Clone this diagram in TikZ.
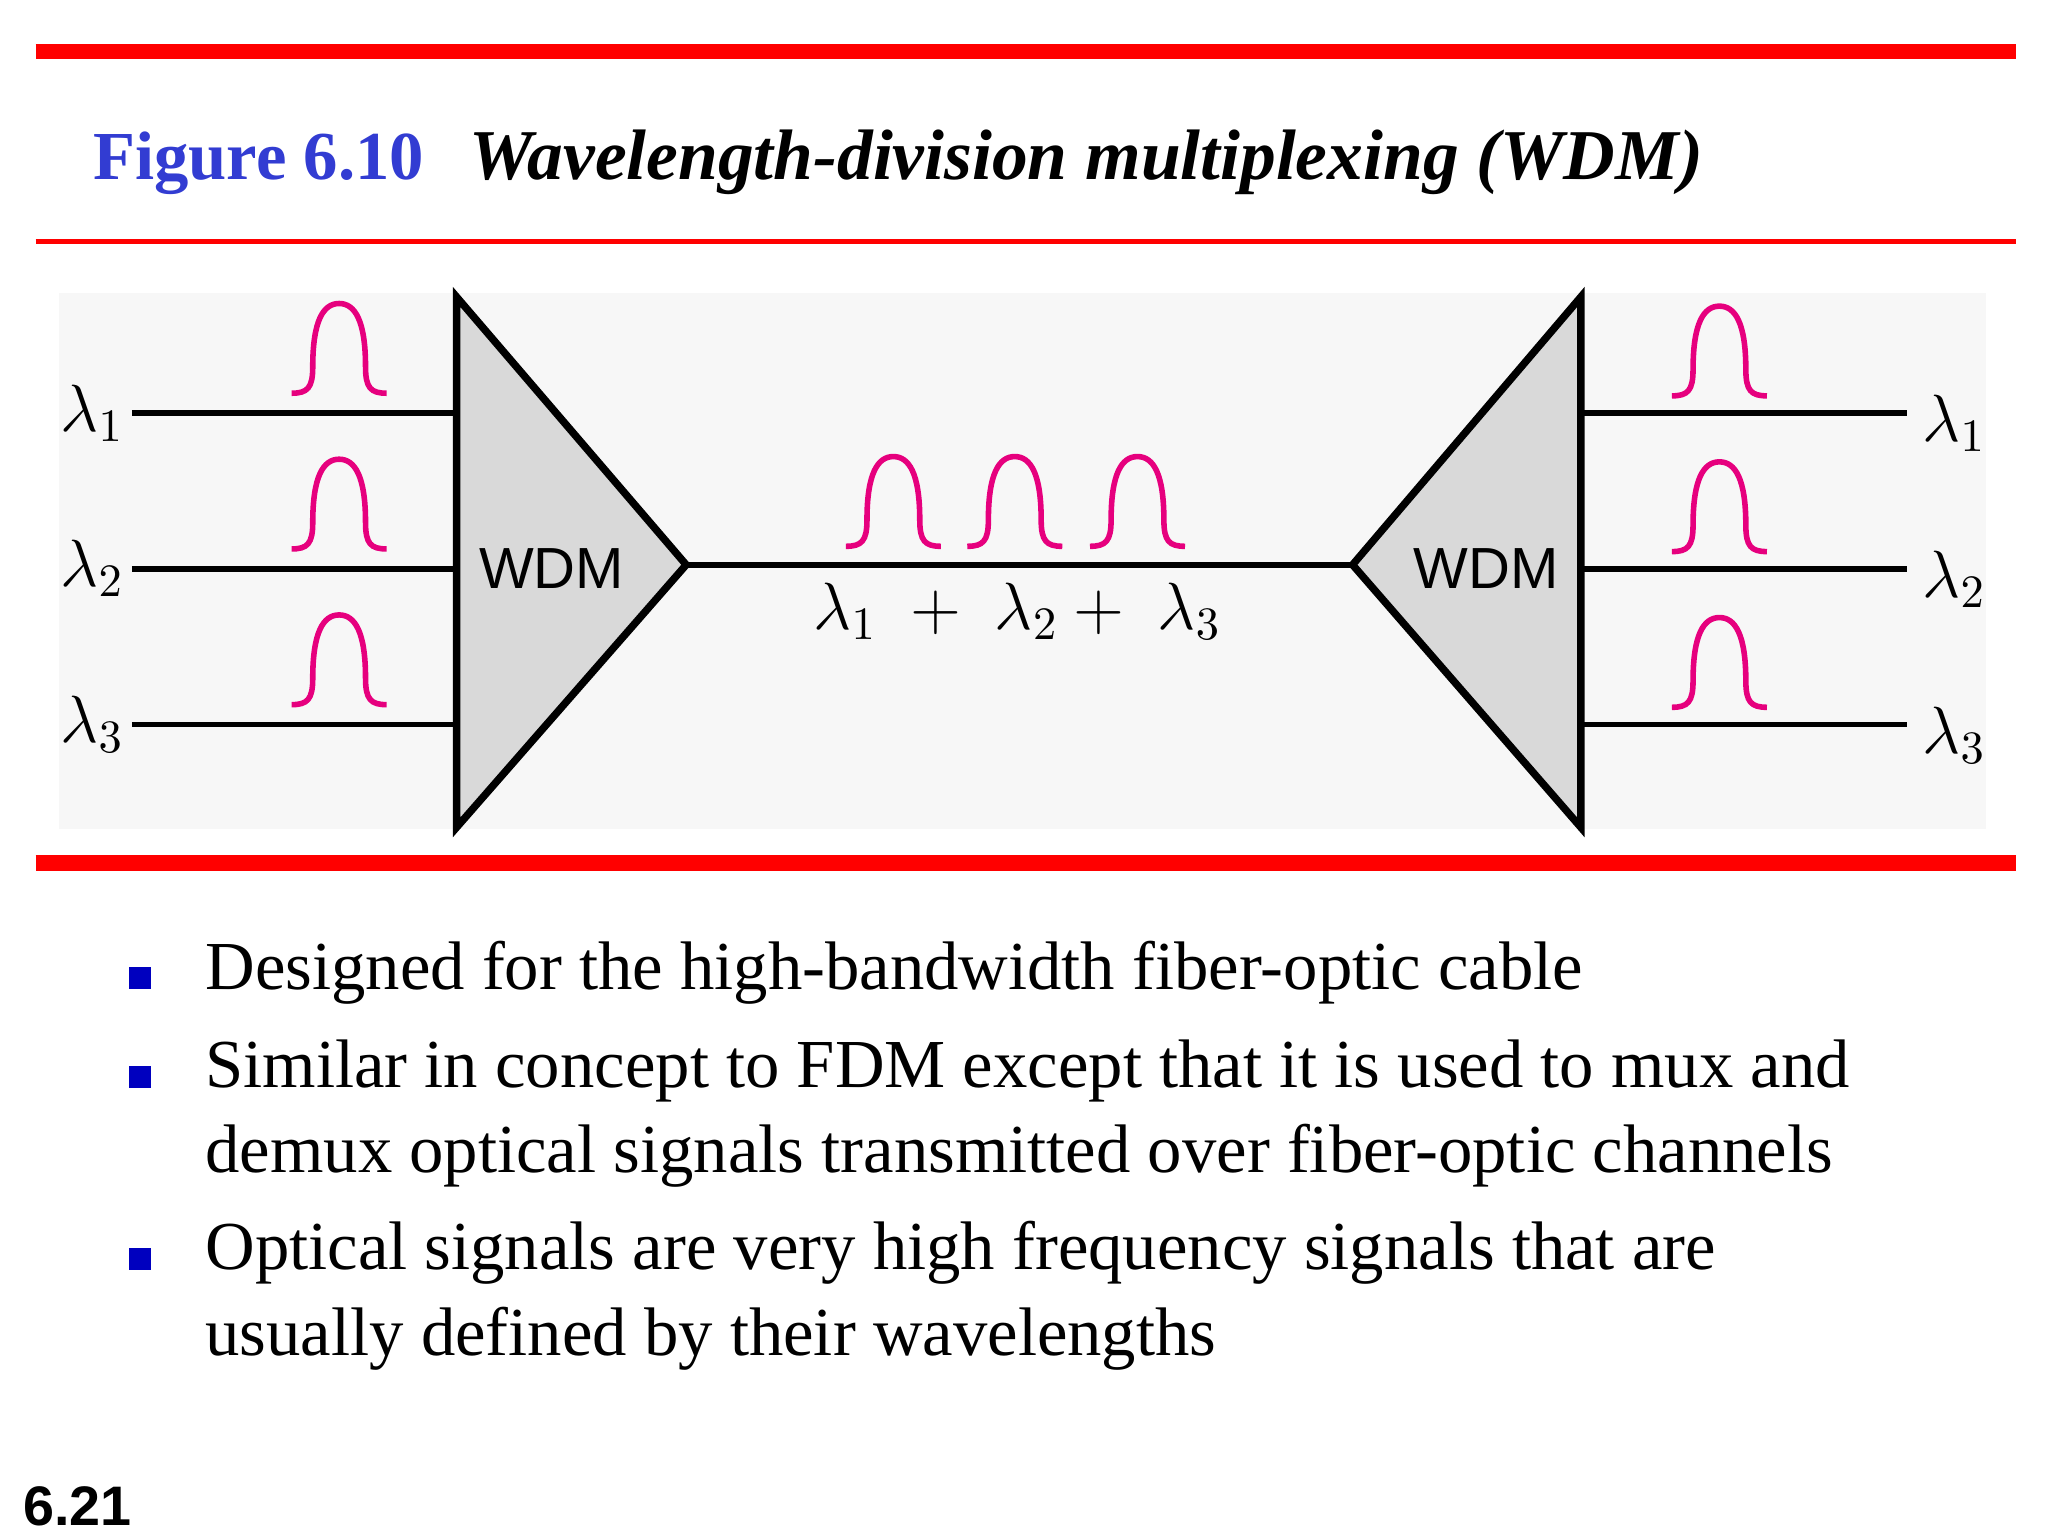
\documentclass[tikz,border=0pt]{standalone}
\usepackage{fontspec}
\setmainfont{Liberation Serif}
\newfontfamily\sansf{Liberation Sans}
\begin{document}
\begin{tikzpicture}[x=0.01cm,y=-0.01cm,
  redbar/.style={draw=red,line width=12*0.2845pt},
  wire/.style={line width=1.2pt,black},
  tri/.style={fill=black!15,draw=black,line width=1.6pt,line join=miter},
  lam/.style={font=\fontsize{14}{14}\selectfont,inner sep=0pt},
  bul/.style={fill=blue!75!black,minimum size=0.17cm,inner sep=0pt},
  btxt/.style={anchor=base west,font=\fontsize{14.8}{18.5}\selectfont,inner sep=0pt,align=left},
  pics/pulse/.style={code={\draw[line width=1.2pt,draw={rgb,255:red,230;green,0;blue,126}]
    (-36,0) .. controls (-24,0) and (-20,-4) .. (-20,-20) .. controls (-20,-55) and (-12,-68) .. (0,-68)
    .. controls (12,-68) and (20,-55) .. (20,-20) .. controls (20,-4) and (24,0) .. (36,0);}}]
\useasboundingbox (0,0) rectangle (1552,1164);
\draw[redbar] (27,39) -- (1528,39);
\draw[red,line width=0.9pt] (27,183) -- (1528,183);
\draw[redbar] (27,654) -- (1528,654);
\node[anchor=base west,inner sep=0pt,font=\bfseries\fontsize{14.8}{16}\selectfont,text={rgb,255:red,50;green,60;blue,210}] (fig) at (70,136) {Figure 6.10};
\node[anchor=base west,inner sep=0pt,font=\bfseries\itshape\fontsize{15.4}{16}\selectfont] (ttl) at (355,136) {Wavelength-division multiplexing (WDM)};
\fill[black!3] (45,222) rectangle (1505,628);
\draw[tri] (346,225) -- (346,627) -- (520,428) -- cycle;
\draw[tri] (1198,225) -- (1198,627) -- (1025,428) -- cycle;
\node[font=\sansf\fontsize{12.5}{13}\selectfont] (w1) at (418,431) {WDM};
\node[font=\sansf\fontsize{12.5}{13}\selectfont] (w2) at (1126,431) {WDM};
\coordinate (m1) at (520,428); \coordinate (m2) at (1025,428);
\draw[wire] (m1) -- (m2);
\foreach \y/\i in {313/1,431/2,549/3}{
  \node[lam] (L\i) at (70,\y) {$\lambda_{\i}$};
  \coordinate (a\i) at (100,\y); \coordinate (b\i) at (346,\y);
  \draw[wire] (a\i) -- (b\i);
  \pic at (257,\y-15) {pulse};
  \node[lam] (R\i) at (1481,\y+8) {$\lambda_{\i}$};
  \coordinate (c\i) at (1198,\y); \coordinate (d\i) at (1445,\y);
  \draw[wire] (c\i) -- (d\i);
  \pic at (1303,\y-13) {pulse};
}
\foreach \x in {677,769,862}{\pic at (\x,414) {pulse};}
\node[lam] (sum) at (771,463) {$\lambda_1\;+\;\lambda_2+\;\lambda_3$};
\node[bul] (b1) at (106,741) {};
\node[bul] (b2) at (106,816) {};
\node[bul] (b3) at (106,954) {};
\node[btxt] (t1) at (155,750) {Designed for the high-bandwidth fiber-optic cable};
\node[btxt,anchor=north west] (t2) at (155,787) {Similar in concept to FDM except that it is used to mux and\\demux optical signals transmitted over fiber-optic channels};
\node[btxt,anchor=north west] (t3) at (155,925) {Optical signals are very high frequency signals that are\\usually defined by their wavelengths};
\node[anchor=base west,inner sep=0pt,font=\sansf\bfseries\fontsize{12}{13}\selectfont] (pg) at (17,1156) {6.21};
\end{tikzpicture}
\end{document}
